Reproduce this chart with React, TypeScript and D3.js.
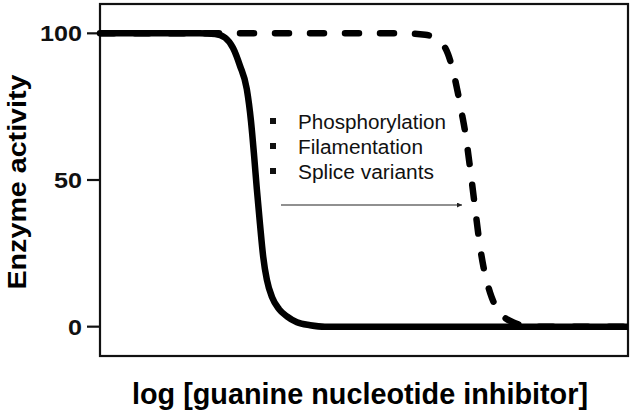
import React, { useEffect, useRef } from "react";
import * as d3 from "d3";

// log concentration (arbitrary units) and % activity
const solidX = [0, 1.89, 2.18, 2.37, 2.52, 2.65, 2.78, 2.86, 2.92, 2.97, 3.03, 3.09, 3.16, 3.26, 3.39, 3.54, 3.73, 3.98, 4.26, 10];
const solidY = [100, 100, 99.8, 98.5, 95, 89, 81, 70, 58, 47, 35, 24, 16, 10, 6, 3.5, 1.5, 0.5, 0, 0];

const dashedX = [0, 5.68, 6.16, 6.38, 6.59, 6.69, 6.78, 6.86, 6.91, 7.01, 7.1, 7.2, 7.29, 7.39, 7.52, 7.67, 7.82, 7.99, 8.14, 10];
const dashedY = [100, 100, 99.5, 98, 93, 87, 79.5, 72, 67, 54, 41, 27, 18, 11.5, 6, 3, 1.5, 0.5, 0, 0];

const yTicks = [0, 50, 100];
const notes = ["Phosphorylation", "Filamentation", "Splice variants"];
const noteWidths = [148, 125, 136];

const App = () => {
  const ref = useRef<SVGSVGElement>(null);

  useEffect(() => {
    const width = 634;
    const height = 413;
    const left = 100, right = 628, top = 4, bottom = 356;

    const svg = d3.select(ref.current).attr("width", width).attr("height", height);
    svg.selectAll("*").remove();

    const x = d3.scaleLinear().domain([0, 10]).range([left, right]);
    const y = d3.scaleLinear().domain([-10, 110]).range([bottom, top]);

    const font = "'Liberation Sans', Arial, Helvetica, sans-serif";

    svg.append("defs").append("marker")
      .attr("id", "head")
      .attr("viewBox", "0 0 10 10")
      .attr("refX", 10).attr("refY", 5)
      .attr("markerWidth", 6).attr("markerHeight", 5)
      .attr("markerUnits", "userSpaceOnUse")
      .attr("orient", "auto")
      .append("path").attr("d", "M0,0L10,5L0,10z").attr("fill", "#222");

    const line = d3.line<[number, number]>()
      .x(d => x(d[0]))
      .y(d => y(d[1]))
      .curve(d3.curveMonotoneX);

    // frame
    svg.append("rect")
      .attr("x", left).attr("y", top)
      .attr("width", right - left).attr("height", bottom - top)
      .attr("fill", "none").attr("stroke", "#111").attr("stroke-width", 2.2);

    // y ticks
    const g = svg.append("g");
    yTicks.forEach(t => {
      g.append("line")
        .attr("x1", 87).attr("x2", left)
        .attr("y1", y(t)).attr("y2", y(t))
        .attr("stroke", "#111").attr("stroke-width", 2.2);
      const s = String(t);
      g.append("text")
        .attr("x", 82).attr("y", y(t) + 8)
        .attr("text-anchor", "end")
        .attr("font-family", font).attr("font-weight", "bold").attr("font-size", 22)
        .attr("textLength", s.length * 14).attr("lengthAdjust", "spacingAndGlyphs")
        .attr("fill", "#111")
        .text(s);
    });

    // curves
    svg.append("path")
      .datum(dashedX.map((d, i) => [d, dashedY[i]] as [number, number]))
      .attr("d", line)
      .attr("fill", "none").attr("stroke", "#000")
      .attr("stroke-width", 6.5)
      .attr("stroke-linecap", "round")
      .attr("stroke-dasharray", "14,21");

    svg.append("path")
      .datum(solidX.map((d, i) => [d, solidY[i]] as [number, number]))
      .attr("d", line)
      .attr("fill", "none").attr("stroke", "#000")
      .attr("stroke-width", 6.5)
      .attr("stroke-linejoin", "round");

    // notes
    notes.forEach((n, i) => {
      const by = 129 + i * 25;
      svg.append("rect")
        .attr("x", 270).attr("y", by - 11)
        .attr("width", 6).attr("height", 6)
        .attr("fill", "#111");
      svg.append("text")
        .attr("x", 298).attr("y", by)
        .attr("font-family", font).attr("font-size", 20)
        .attr("textLength", noteWidths[i]).attr("lengthAdjust", "spacingAndGlyphs")
        .attr("fill", "#111")
        .text(n);
    });

    // shift arrow
    svg.append("line")
      .attr("x1", 281).attr("x2", 462)
      .attr("y1", 205).attr("y2", 205)
      .attr("stroke", "#222").attr("stroke-width", 1.2)
      .attr("marker-end", "url(#head)");

    // axis titles
    svg.append("text")
      .attr("x", 360).attr("y", 404)
      .attr("text-anchor", "middle")
      .attr("font-family", font).attr("font-weight", "bold").attr("font-size", 29)
      .attr("textLength", 456).attr("lengthAdjust", "spacingAndGlyphs")
      .attr("fill", "#000")
      .text("log [guanine nucleotide inhibitor]");

    svg.append("text")
      .attr("transform", "translate(26,182) rotate(-90)")
      .attr("text-anchor", "middle")
      .attr("font-family", font).attr("font-weight", "bold").attr("font-size", 26)
      .attr("textLength", 215).attr("lengthAdjust", "spacingAndGlyphs")
      .attr("fill", "#000")
      .text("Enzyme activity");
  }, []);

  return (
    <svg ref={ref} style={{ position: "absolute", left: 0, top: 0, background: "#fff" }}></svg>
  );
};

export default App;
